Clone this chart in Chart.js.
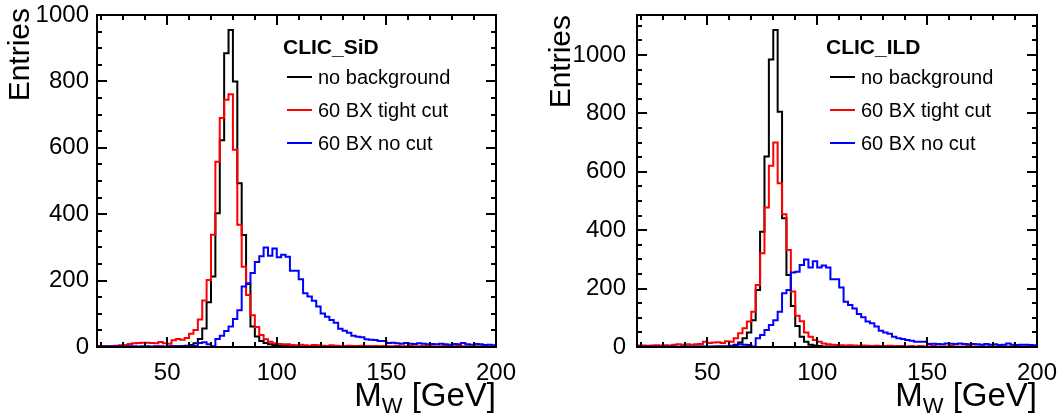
<!DOCTYPE html>
<html>
<head>
<meta charset="utf-8">
<script src="https://cdn.jsdelivr.net/npm/chart.js@4/dist/chart.umd.min.js"></script>
<style>
  html, body { margin: 0; padding: 0; background: #fff; }
  #wrap { position: relative; width: 1062px; height: 414px; }
  .panel { position: absolute; top: 0; width: 531px; height: 414px; }
</style>
</head>
<body>
<div id="wrap">
  <div class="panel" style="left:0"><canvas id="sidChart" width="531" height="414"></canvas></div>
  <div class="panel" style="left:531px"><canvas id="ildChart" width="531" height="414"></canvas></div>
</div>
<script>
// Histogram range: 2 GeV bins from 18 to 200 GeV
const X_MIN = 18;
const X_MAX = 200;
const BIN_WIDTH = 2;

// Axis ticks (labelled)
const xTickLabels = [50, 100, 150, 200];
const yTickLabels = [0, 200, 400, 600, 800, 1000];

const seriesLabels = ['no background', '60 BX tight cut', '60 BX no cut'];
const seriesColors = ['#000000', '#ff0000', '#0000ff'];

// CLIC_SiD, entries per bin (bins start at 18, 20, 22 ... 198)
const sidNoBkg = [
    0, 0, 0, 0, 0, 0, 0, 1, 0, 1,
    0, 1, 1, 1, 1, 1, 1, 2, 2, 3,
    4, 6, 11, 24, 56, 135, 212, 403, 623, 885,
    955, 800, 493, 337, 190, 62, 32, 18, 12, 8,
    6, 5, 3, 3, 2, 2, 1, 1, 1, 1,
    1, 0, 1, 0, 0, 1, 0, 0, 0, 0,
    0, 0, 1, 0, 0, 0, 0, 0, 0, 0,
    0, 0, 0, 0, 1, 0, 0, 0, 0, 0,
    0, 0, 0, 0, 0, 0, 0, 0, 0, 0,
    0
];
const sidTight = [
    3, 3, 2, 3, 4, 5, 6, 9, 11, 12,
    13, 13, 12, 11, 15, 11, 10, 20, 24, 22,
    27, 40, 51, 83, 140, 202, 338, 558, 690, 745,
    761, 594, 368, 242, 157, 96, 60, 36, 23, 16,
    11, 9, 8, 8, 6, 5, 7, 5, 4, 6,
    5, 4, 3, 5, 4, 3, 3, 4, 3, 3,
    4, 3, 2, 3, 2, 3, 2, 2, 3, 2,
    2, 3, 2, 2, 3, 2, 2, 1, 2, 3,
    2, 2, 3, 2, 2, 1, 2, 2, 2, 1,
    2
];
const sidNoCut = [
    2, 1, 2, 1, 2, 2, 1, 2, 2, 1,
    2, 2, 1, 2, 2, 1, 2, 2, 1, 2,
    2, 2, 3, 12, 14, 8, 2, 24, 34, 48,
    62, 84, 111, 182, 192, 223, 256, 273, 300, 275,
    297, 270, 278, 272, 230, 230, 204, 162, 152, 139,
    122, 101, 91, 81, 73, 55, 49, 43, 34, 31,
    29, 23, 22, 21, 18, 18, 12, 13, 11, 10,
    12, 10, 9, 11, 10, 8, 9, 8, 10, 8,
    7, 9, 8, 12, 8, 7, 9, 8, 6, 7,
    5
];

// CLIC_ILD, entries per bin
const ildNoBkg = [
    0, 0, 0, 0, 0, 0, 0, 0, 1, 0,
    0, 1, 0, 1, 1, 1, 1, 1, 2, 2,
    2, 4, 8, 15, 30, 50, 92, 195, 395, 652,
    985, 1086, 806, 441, 247, 140, 72, 35, 18, 8,
    5, 3, 2, 2, 1, 1, 1, 0, 1, 0,
    0, 1, 0, 0, 0, 0, 1, 0, 0, 0,
    0, 0, 0, 0, 0, 0, 0, 0, 0, 0,
    0, 0, 0, 0, 0, 0, 0, 0, 0, 0,
    0, 0, 0, 0, 0, 0, 0, 0, 0, 0,
    0
];
const ildTight = [
    5, 5, 4, 5, 6, 5, 6, 5, 8, 9,
    8, 9, 8, 9, 10, 18, 14, 15, 16, 14,
    20, 18, 30, 47, 64, 87, 121, 212, 321, 478,
    621, 700, 561, 455, 332, 190, 107, 88, 50, 35,
    24, 18, 12, 9, 8, 7, 6, 5, 6, 5,
    4, 5, 4, 3, 4, 3, 3, 4, 3, 3,
    3, 2, 3, 2, 3, 2, 2, 3, 2, 2,
    2, 3, 2, 2, 2, 3, 2, 2, 2, 2,
    2, 2, 1, 2, 2, 2, 1, 2, 2, 1,
    2
];
const ildNoCut = [
    2, 1, 2, 2, 1, 2, 1, 2, 2, 1,
    2, 2, 1, 2, 2, 2, 1, 2, 2, 2,
    2, 3, 5, 9, 8, 7, 2, 30, 41, 58,
    75, 92, 121, 184, 195, 255, 258, 281, 300, 272,
    294, 272, 279, 272, 232, 232, 204, 155, 144, 132,
    113, 102, 87, 81, 70, 56, 50, 45, 35, 30,
    27, 24, 21, 18, 18, 18, 10, 11, 10, 9,
    12, 11, 10, 12, 10, 9, 10, 9, 8, 10,
    8, 9, 7, 8, 12, 8, 7, 8, 8, 7,
    6
];

const FONT = "'Liberation Sans', Arial, Helvetica, sans-serif";

// Low edge of every bin
const binEdges = sidNoBkg.map((_, i) => X_MIN + i * BIN_WIDTH);

// Histogram outline: one point per low edge plus the closing upper edge
function toSteps(values) {
    const pts = values.map((v, i) => ({ x: binEdges[i], y: v }));
    pts.push({ x: X_MAX, y: values[values.length - 1] });
    return pts;
}

// ROOT-like frame, inside ticks, legend and axis titles
const rootStyle = {
    id: 'rootStyle',
    afterDatasetsDraw(chart, args, opts) {
        const ctx = chart.ctx;
        const a = chart.chartArea;
        const xs = chart.scales.x;
        const ys = chart.scales.y;
        ctx.save();
        ctx.strokeStyle = '#000';
        ctx.lineWidth = 2;

        // ticks on all four sides
        ctx.beginPath();
        for (let v = 20; v <= X_MAX; v += 10) {
            const px = Math.round(xs.getPixelForValue(v));
            const len = v % 50 === 0 ? 10 : 5;
            ctx.moveTo(px, a.bottom);
            ctx.lineTo(px, a.bottom - len);
            ctx.moveTo(px, a.top);
            ctx.lineTo(px, a.top + len);
        }
        for (let v = 0; v <= ys.max; v += 50) {
            const py = Math.round(ys.getPixelForValue(v));
            const len = v % 200 === 0 ? 10 : 5;
            ctx.moveTo(a.left, py);
            ctx.lineTo(a.left + len, py);
            ctx.moveTo(a.right, py);
            ctx.lineTo(a.right - len, py);
        }
        ctx.stroke();
        ctx.strokeRect(a.left, a.top, a.right - a.left, a.bottom - a.top);

        // legend
        ctx.fillStyle = '#000';
        ctx.textBaseline = 'alphabetic';
        ctx.textAlign = 'left';
        ctx.font = 'bold 21px ' + FONT;
        ctx.fillText(opts.header, opts.legendX - 4, 54);
        ctx.font = '20px ' + FONT;
        ctx.textBaseline = 'middle';
        chart.data.datasets.forEach((ds, i) => {
            const rowY = opts.legendY[i];
            ctx.strokeStyle = ds.borderColor;
            ctx.beginPath();
            ctx.moveTo(opts.legendX, rowY);
            ctx.lineTo(opts.legendX + 25, rowY);
            ctx.stroke();
            ctx.fillText(ds.label, opts.legendX + 31, rowY + 1);
        });

        // y title, rotated, aligned to the top of the axis
        ctx.save();
        ctx.translate(opts.yTitleX, opts.yTitleTop);
        ctx.rotate(-Math.PI / 2);
        ctx.textAlign = 'right';
        ctx.textBaseline = 'middle';
        ctx.font = '30px ' + FONT;
        ctx.fillText('Entries', 0, 0);
        ctx.restore();

        // x title M_W [GeV], aligned to the right end of the axis
        ctx.textBaseline = 'alphabetic';
        ctx.textAlign = 'left';
        const mainFont = '33px ' + FONT;
        const subFont = '22px ' + FONT;
        ctx.font = mainFont;
        const wM = ctx.measureText('M').width;
        const wRest = ctx.measureText(' [GeV]').width;
        ctx.font = subFont;
        const wW = ctx.measureText('W').width;
        let tx = a.right - (wM + wW + wRest);
        const base = 406;
        ctx.font = mainFont;
        ctx.fillText('M', tx, base);
        tx += wM;
        ctx.font = subFont;
        ctx.fillText('W', tx, base + 7);
        tx += wW;
        ctx.font = mainFont;
        ctx.fillText(' [GeV]', tx, base);
        ctx.restore();
    }
};

function makeChart(canvasId, series, panel) {
    const datasets = series.map((values, i) => ({
        label: seriesLabels[i],
        data: toSteps(values),
        borderColor: seriesColors[i],
        borderWidth: 2,
        pointRadius: 0,
        fill: false,
        stepped: true,
        order: 3 - i
    }));

    return new Chart(document.getElementById(canvasId), {
        type: 'line',
        data: { datasets: datasets },
        plugins: [rootStyle],
        options: {
            responsive: false,
            animation: false,
            devicePixelRatio: 1,
            layout: { padding: { top: 15, right: panel.padRight, left: 0, bottom: 0 } },
            scales: {
                x: {
                    type: 'linear',
                    min: X_MIN,
                    max: X_MAX,
                    afterBuildTicks: s => { s.ticks = xTickLabels.map(v => ({ value: v })); },
                    afterFit: s => {
                        s.height = 67;
                        s.paddingLeft = 0;
                        s.paddingRight = 0;
                    },
                    grid: { display: false, drawTicks: false },
                    border: { display: false },
                    ticks: {
                        color: '#000',
                        font: { family: FONT, size: 24 },
                        padding: 12,
                        maxRotation: 0,
                        callback: v => String(v)
                    }
                },
                y: {
                    type: 'linear',
                    min: 0,
                    max: panel.yMax,
                    afterBuildTicks: s => { s.ticks = yTickLabels.map(v => ({ value: v })); },
                    afterFit: s => {
                        s.width = panel.yWidth;
                        s.paddingTop = 0;
                        s.paddingBottom = 0;
                    },
                    grid: { display: false, drawTicks: false },
                    border: { display: false },
                    ticks: {
                        color: '#000',
                        font: { family: FONT, size: 24 },
                        padding: panel.labelPad,
                        labelOffset: 0,
                        callback: v => String(v)
                    }
                }
            },
            plugins: {
                legend: { display: false },
                tooltip: { enabled: false },
                rootStyle: {
                    header: panel.header,
                    legendX: panel.legendX,
                    legendY: [77, 110, 143],
                    yTitleX: panel.yTitleX,
                    yTitleTop: panel.yTitleTop
                }
            }
        }
    });
}

makeChart('sidChart', [sidNoBkg, sidTight, sidNoCut], {
    header: 'CLIC_SiD', yMax: 1000, yWidth: 97, padRight: 35, labelPad: 8,
    legendX: 287, yTitleX: 21, yTitleTop: 8
});
makeChart('ildChart', [ildNoBkg, ildTight, ildNoCut], {
    header: 'CLIC_ILD', yMax: 1137, yWidth: 106, padRight: 25, labelPad: 11,
    legendX: 299, yTitleX: 31, yTitleTop: 15
});
</script>
</body>
</html>
